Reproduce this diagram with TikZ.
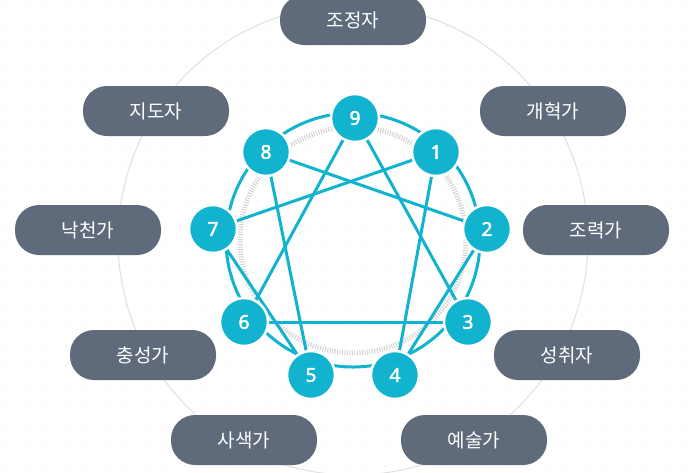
\documentclass[tikz,border=0pt]{standalone}
\usepackage{fontspec}
\newfontfamily\kr{Noto Sans CJK KR}
\newfontfamily\nsans[FakeBold=2.5]{Noto Sans}
\definecolor{cy}{HTML}{12B3CF}
\definecolor{gb}{HTML}{5F6B7A}
\begin{document}
\begin{tikzpicture}[x=1pt,y=-1pt,
 num/.style={circle,fill=cy,draw=white,line width=2.5pt,minimum size=48pt,inner sep=0pt,text=white,font=\nsans\bfseries\fontsize{19}{19}\selectfont},
 lab/.style={rounded corners=24pt,fill=gb,text=white,minimum width=146pt,minimum height=50pt,font=\kr\fontsize{19}{19}\selectfont},
 ln/.style={cy,line width=3pt}]
\useasboundingbox (0,0) rectangle (692,472);
\fill[white] (0,0) rectangle (692,472);
\foreach \i in {0,...,34}{\foreach \j in {0,...,24}{\fill[gray!12] (\i*20+6,\j*20+6) circle (1pt);}}
\coordinate (c) at (353,240);
\draw[gray!25,line width=1pt] (c) circle (235);
\draw[gray!35,line width=5pt,dash pattern=on 1pt off 1.5pt] (c) circle (113);
\draw[white,line width=7pt] (c) circle (127);
\draw[cy,line width=3pt] (c) circle (127);
\foreach \n/\x/\y in {9/355/118,1/436/152,2/487/229,3/468/322,4/395/375,5/311/375,6/244/322,7/213/229,8/266/152}
  \coordinate (p\n) at (\x,\y);
\foreach \a/\b in {9/3,3/6,6/9,1/4,4/2,2/8,8/5,5/7,7/1}
  \draw[ln] (p\a) -- (p\b);
\foreach \n in {9,1,2,3,4,5,6,7,8} \node[num] (n\n) at (p\n) {\n};
\node[lab] (l9) at (353,20) {조정자};
\node[lab] (l1) at (553,111) {개혁가};
\node[lab] (l2) at (596,230) {조력가};
\node[lab] (l3) at (567,355) {성취자};
\node[lab] (l4) at (474,440) {예술가};
\node[lab] (l5) at (244,440) {사색가};
\node[lab] (l6) at (143,355) {충성가};
\node[lab] (l7) at (88,230) {낙천가};
\node[lab] (l8) at (156,111) {지도자};
\end{tikzpicture}
\end{document}
